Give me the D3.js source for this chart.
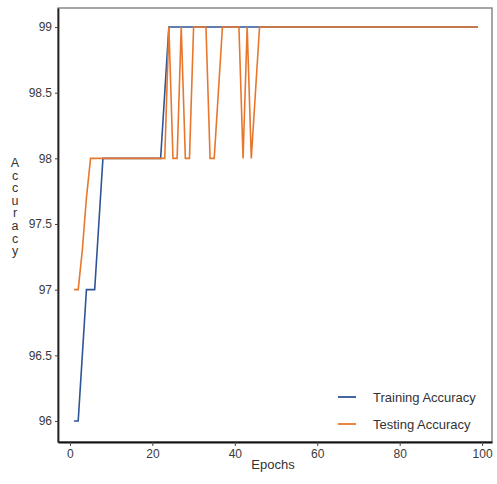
<!DOCTYPE html>
<html>
<head>
<meta charset="utf-8">
<script src="https://cdn.jsdelivr.net/npm/d3@7"></script>
<style>
  html, body { margin: 0; padding: 0; background: #fff; }
  svg { display: block; font-family: "Liberation Sans", Arial, sans-serif; }
</style>
</head>
<body>
<svg id="chart" width="497" height="484"></svg>
<script>
// ---- data ----
const epochs = [
  1, 2, 3, 4, 5, 6, 7, 8, 9, 10,
  11, 12, 13, 14, 15, 16, 17, 18, 19, 20,
  21, 22, 23, 24, 25, 26, 27, 28, 29, 30,
  31, 32, 33, 34, 35, 36, 37, 38, 39, 40,
  41, 42, 43, 44, 45, 46, 47, 48, 49, 50,
  51, 52, 53, 54, 55, 56, 57, 58, 59, 60,
  61, 62, 63, 64, 65, 66, 67, 68, 69, 70,
  71, 72, 73, 74, 75, 76, 77, 78, 79, 80,
  81, 82, 83, 84, 85, 86, 87, 88, 89, 90,
  91, 92, 93, 94, 95, 96, 97, 98, 99
];
const trainingAccuracy = [
  96, 96, 96.5, 97, 97, 97, 97.5, 98, 98, 98,
  98, 98, 98, 98, 98, 98, 98, 98, 98, 98,
  98, 98, 98.5, 99, 99, 99, 99, 99, 99, 99,
  99, 99, 99, 99, 99, 99, 99, 99, 99, 99,
  99, 99, 99, 99, 99, 99, 99, 99, 99, 99,
  99, 99, 99, 99, 99, 99, 99, 99, 99, 99,
  99, 99, 99, 99, 99, 99, 99, 99, 99, 99,
  99, 99, 99, 99, 99, 99, 99, 99, 99, 99,
  99, 99, 99, 99, 99, 99, 99, 99, 99, 99,
  99, 99, 99, 99, 99, 99, 99, 99, 99
];
const testingAccuracy = [
  97, 97, 97.3, 97.7, 98, 98, 98, 98, 98, 98,
  98, 98, 98, 98, 98, 98, 98, 98, 98, 98,
  98, 98, 98, 99, 98, 98, 99, 98, 98, 99,
  99, 99, 99, 98, 98, 98.5, 99, 99, 99, 99,
  99, 98, 99, 98, 98.5, 99, 99, 99, 99, 99,
  99, 99, 99, 99, 99, 99, 99, 99, 99, 99,
  99, 99, 99, 99, 99, 99, 99, 99, 99, 99,
  99, 99, 99, 99, 99, 99, 99, 99, 99, 99,
  99, 99, 99, 99, 99, 99, 99, 99, 99, 99,
  99, 99, 99, 99, 99, 99, 99, 99, 99
];
const xTicks = [0, 20, 40, 60, 80, 100];
const yTicks = [96, 96.5, 97, 97.5, 98, 98.5, 99];
const seriesNames = ["Training Accuracy", "Testing Accuracy"];
const yLabel = "Accuracy";
const xLabel = "Epochs";

// ---- layout ----
const L = 58, R = 492, T = 8, B = 442;
const colors = ["#2f5597", "#e8772e"];

const svg = d3.select("#chart");
const x = d3.scaleLinear().domain([-2.9, 102.4]).range([L, R]);
const y = d3.scaleLinear().domain([95.84, 99.145]).range([B, T]);

// frame (top/right)
svg.append("rect")
  .attr("x", L).attr("y", T).attr("width", R - L).attr("height", B - T)
  .attr("fill", "none").attr("stroke", "#777").attr("stroke-width", 1.3);

// axes
const xAxis = svg.append("g").attr("transform", `translate(0,${B})`)
  .call(d3.axisBottom(x).tickValues(xTicks).tickSize(4).tickSizeOuter(0).tickPadding(3));
const yAxis = svg.append("g").attr("transform", `translate(${L},0)`)
  .call(d3.axisLeft(y).tickValues(yTicks).tickFormat(d3.format("")).tickSize(3).tickSizeOuter(0).tickPadding(3));

xAxis.select(".domain").attr("stroke", "#111").attr("stroke-width", 2.2);
yAxis.select(".domain").attr("stroke", "#222").attr("stroke-width", 1.8);
[xAxis, yAxis].forEach(g => {
  g.selectAll(".tick line").attr("stroke", "#444");
  g.selectAll(".tick text").attr("fill", "#3a3a3a").attr("font-size", 12)
    .attr("font-family", "Liberation Sans, Arial, sans-serif");
});

// lines
const rows = epochs.map((e, i) => ({ e, tr: trainingAccuracy[i], te: testingAccuracy[i] }));
const lineTr = d3.line().x(d => x(d.e)).y(d => y(d.tr));
const lineTe = d3.line().x(d => x(d.e)).y(d => y(d.te));
svg.append("path").datum(rows).attr("d", lineTr)
  .attr("fill", "none").attr("stroke", colors[0]).attr("stroke-width", 1.6);
svg.append("path").datum(rows).attr("d", lineTe)
  .attr("fill", "none").attr("stroke", colors[1]).attr("stroke-width", 1.6);

// axis labels
svg.append("text").attr("x", 273).attr("y", 469).attr("text-anchor", "middle")
  .attr("font-size", 13).attr("fill", "#333").text(xLabel);

const yl = svg.append("g");
yLabel.split("").forEach((ch, i) => {
  yl.append("text").attr("x", 15).attr("y", 167 + i * 12.6)
    .attr("text-anchor", "middle").attr("font-size", 12.5).attr("fill", "#333").text(ch);
});

// legend
const leg = svg.append("g");
seriesNames.forEach((name, i) => {
  const ly = 397 + i * 27;
  leg.append("line").attr("x1", 338).attr("x2", 356).attr("y1", ly).attr("y2", ly)
    .attr("stroke", colors[i]).attr("stroke-width", 1.8);
  leg.append("text").attr("x", 373).attr("y", ly + 4.5)
    .attr("font-size", 13).attr("fill", "#333").text(name);
});
</script>
</body>
</html>
